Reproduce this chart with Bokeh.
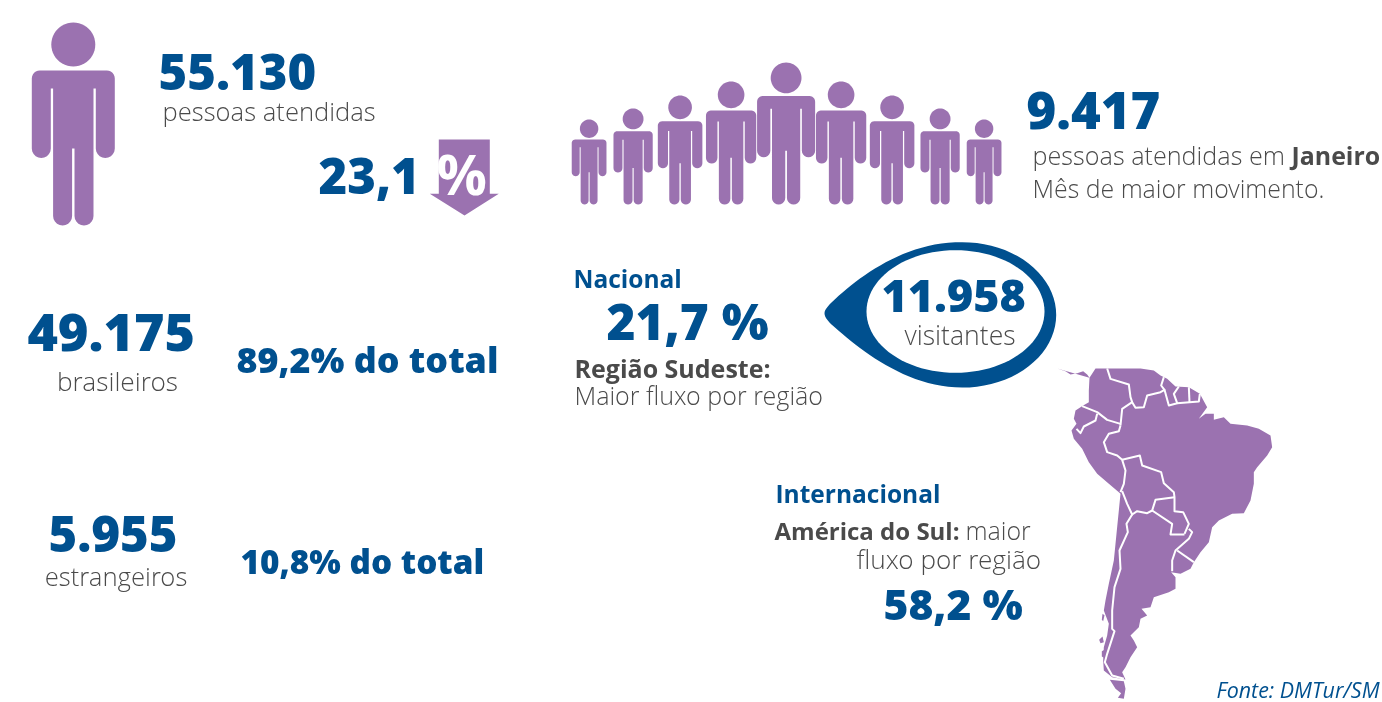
from bokeh.plotting import figure
from bokeh.models import Range1d
from bokeh.core.properties import value
from bokeh.embed import file_html
from bokeh.resources import INLINE
import math

# ---- values and wording ----
total_value = "55.130"
total_label = "pessoas atendidas"
change_value = "23,1"
change_unit = "%"
peak_value = "9.417"
peak_label = "pessoas atendidas em"
peak_month = "Janeiro"
peak_note = "Mês de maior movimento."
group_values = ["49.175", "5.955"]
group_labels = ["brasileiros", "estrangeiros"]
group_shares = ["89,2% do total", "10,8% do total"]
visitor_value = "11.958"
visitor_label = "visitantes"
national_head = "Nacional"
national_share = "21,7 %"
national_region = "Região Sudeste:"
national_note = "Maior fluxo por região"
intl_head = "Internacional"
intl_region = "América do Sul:"
intl_note = ["maior", "fluxo por região"]
intl_share = "58,2 %"
source_note = "Fonte: DMTur/SM"

# heights of the crowd pictogram, tallest in the middle
crowd_heights = [85, 96, 109, 123, 142, 123, 109, 96, 85]
crowd_centres = [589, 633, 680, 731, 786, 841, 892, 940, 984]

# outlines of the map
continent = [(50,24),(75,32),(90,42),(110,38),(128,32),(140,42),(147,52),(145,90),(145,125),(128,135),(105,150),(100,175),(108,190),(93,210),(100,235),(125,265),(145,305),(170,340),(205,370),(235,395),(240,400),(235,450),(228,520),(220,600),(205,670),(195,720),(190,750),(205,790),(200,825),(190,860),(188,900),(190,930),(215,950),(255,957),(245,935),(255,920),(270,890),(290,860),(280,840),(270,825),(295,800),(300,775),(320,765),(303,745),(330,740),(340,710),(385,695),(405,685),(405,650),(392,635),(420,640),(450,625),(460,605),(480,575),(505,545),(515,500),(535,480),(575,460),(610,458),(630,420),(640,370),(640,335),(650,320),(680,285),(695,260),(690,225),(655,205),(620,195),(570,190),(550,170),(520,178),(520,160),(495,160),(475,175),(500,140),(478,100),(445,80),(405,78),(380,55),(360,45),(340,30),(300,24),(165,24),(147,52)]
fuego = [(208,958),(250,962),(255,985),(250,1015),(232,1012),(242,998),(225,985)]
islets = [
 [(186,760),(192,764),(188,782),(184,778)],
 [(176,838),(186,828),(190,845),(180,848)],
 [(184,872),(192,868),(190,892),(184,888)],
]
borders = [
 [(200,24),(210,55),(265,72),(270,110),(275,125),(245,145),(240,195)],
 [(275,125),(285,142),(310,140),(320,105),(360,95),(372,88),(362,75),(370,50)],
 [(372,88),(385,135),(410,128),(400,100),(415,78)],
 [(410,128),(447,125),(475,123),(478,100)],
 [(447,125),(445,80)],
 [(125,137),(170,155),(200,178),(240,190)],
 [(170,160),(165,180),(130,198),(120,218),(108,205)],
 [(240,195),(235,212),(205,220),(190,245),(200,275),(230,285),(245,298),(255,330),(250,370),(240,395)],
 [(245,298),(298,285),(305,315),(362,335),(370,368),(400,395),(402,410),(402,452),(428,455),(445,490),(432,520)],
 [(245,392),(260,430),(275,462),(290,452),(320,458),(335,450),(345,418),(402,410)],
 [(335,450),(395,490),(390,522),(432,522)],
 [(445,505),(455,515),(445,535),(405,570),(395,600),(395,632)],
 [(410,570),(460,605)],
 [(275,462),(258,490),(262,515),(237,570),(240,625),(222,680),(215,750),(215,805),(222,812),(200,880),(193,905),(215,945),(250,955)],
]

BLUE = "#00508f"
PURPLE = "#9b72b0"
GRAY = "#4a4a4a"

p = figure(width=1382, height=702, x_range=Range1d(0, 1382), y_range=Range1d(702, 0),
           output_backend="svg", toolbar_location=None, min_border=0)
p.axis.visible = False
p.grid.visible = False
p.outline_line_color = None
p.background_fill_color = "white"
p.styles = {"position": "fixed", "left": "0", "top": "0"}


def arc(cx, cy, r, a0, a1, n=10):
    return [(cx + r * math.cos(math.radians(a0 + (a1 - a0) * i / n)),
             cy + r * math.sin(math.radians(a0 + (a1 - a0) * i / n))) for i in range(n + 1)]


def person(cx, bottom, height):
    s = height / 203.0
    X = lambda u: cx + u * s
    Y = lambda v: bottom + (v - 225) * s
    th = [i * 2 * math.pi / 48 for i in range(48)]
    p.patch([X(22 * math.cos(t)) for t in th], [Y(44 + 22 * math.sin(t)) for t in th],
            fill_color=PURPLE, line_color=None)
    half = [(0, 70)]
    half += [(41.5 - 8 + 8 * math.cos(math.radians(a)), 78 + 8 * math.sin(math.radians(a))) for a in range(-90, 1, 15)]
    half += arc(32, 148, 9.5, 0, 180)
    half += [(22.5, 88), (20.2, 88)]
    half += arc(10.7, 215.5, 9.5, 0, 180)
    half += [(1.2, 148), (0, 148)]
    outline = half + [(-x, y) for x, y in reversed(half)]
    p.patch([X(x) for x, _ in outline], [Y(y) for _, y in outline], fill_color=PURPLE, line_color=None)


def label(text, x, y, size, color=GRAY, bold=False, italic=False, align="left", font="Open Sans"):
    style = "bold italic" if bold and italic else "bold" if bold else "italic" if italic else "normal"
    p.text([x - 1], [y - 0.37 * size - 1.5], text=[text], text_font=value(font), text_font_size=f"{size}px",
           text_color=color, text_font_style=style, text_baseline="alphabetic", text_align=align)


# people
person(72.8, 225, 203)
for c, h in zip(crowd_centres, crowd_heights):
    person(c - 0.4, 204, h)

# down arrow
p.patch([438.3, 489.3, 489.3, 498.3, 464, 429.3, 438.3], [139, 139, 193.3, 193.3, 215, 193.3, 193.3],
        fill_color=PURPLE, line_color=None)


def bezier(a, b, c, d, n=24):
    out = []
    for i in range(n + 1):
        t = i / n
        u = 1 - t
        out.append((u**3 * a[0] + 3 * u * u * t * b[0] + 3 * u * t * t * c[0] + t**3 * d[0],
                    u**3 * a[1] + 3 * u * u * t * b[1] + 3 * u * t * t * c[1] + t**3 * d[1]))
    return out


# speech drop
drop = arc(961.7, 314.4, 94, 90, -90, 40)
drop = [(961.7 + (x - 961.7), 314.4 + (y - 314.4) * 72.7 / 94) for x, y in drop]
drop += bezier((961.7, 241.7), (905, 241), (858, 276), (831, 302))
drop += bezier((831, 302), (826, 307), (824, 310), (824, 312.7), 6)
drop += bezier((824, 312.7), (824, 316), (826, 319), (831, 324), 6)
drop += bezier((831, 324), (858, 348), (905, 387), (961.7, 387))
p.patch([x for x, _ in drop], [y for _, y in drop], fill_color=BLUE, line_color=None)
th = [i * 2 * math.pi / 96 for i in range(96)]
p.patch([955 + 89 * math.cos(t) for t in th], [311 + 61.3 * math.sin(t) for t in th], fill_color="white", line_color=None)


# map
def mx(pts):
    return [1040 + a / 3 for a, _ in pts]


def my(pts):
    return [360 + b / 3 for _, b in pts]


p.patch(mx(continent), my(continent), fill_color=PURPLE, line_color=None)
p.patch(mx(fuego), my(fuego), fill_color=PURPLE, line_color=None)
for isl in islets:
    p.patch(mx(isl), my(isl), fill_color=PURPLE, line_color=None)
for b in borders:
    p.line(mx(b), my(b), line_color="white", line_width=2, line_join="round")

# texts
HEAVY = "Open Sans ExtraBold"
LIGHT = "Open Sans Light"
label(total_value, 159, 91, 49, BLUE, font=HEAVY)
label(total_label, 163, 122, 25.6, font=LIGHT)
label(change_value, 319, 195, 49, BLUE, font=HEAVY)
label(change_unit, 437, 195, 56, "white", True)
label(peak_value, 1027, 130, 50.8, BLUE, font=HEAVY)
label(peak_label, 1033, 165, 25.2, font=LIGHT)
label(peak_month, 1292, 165, 24.9, GRAY, True)
label(peak_note, 1033, 198, 24.9, font=LIGHT)
label(group_values[0], 28, 353, 52, BLUE, font=HEAVY)
label(group_labels[0], 118, 392, 26.3, align="center", font=LIGHT)
label(group_shares[0], 237, 373, 35.8, BLUE, font=HEAVY)
label(group_values[1], 49, 553, 49, BLUE, font=HEAVY)
label(group_labels[1], 116.5, 587.5, 25.7, align="center", font=LIGHT)
label(group_shares[1], 241, 574, 33.3, BLUE, font=HEAVY)
label(national_head, 574, 289, 24.5, BLUE, True)
label(national_share, 607, 340, 49.5, BLUE, font=HEAVY)
label(national_region, 575, 378, 25, GRAY, True)
label(national_note, 575, 405, 25.1, font=LIGHT)
label(visitor_value, 882, 314, 44.8, BLUE, font=HEAVY)
label(visitor_label, 905, 345.5, 26.6, font=LIGHT)
label(intl_head, 776, 504, 24.5, BLUE, True)
label(intl_region, 775, 540, 24, GRAY, True)
label(intl_note[0], 966, 540, 25, font=LIGHT)
label(intl_note[1], 857, 570, 26.2, font=LIGHT)
label(intl_share, 884, 620, 42.5, BLUE, font=HEAVY)
label(source_note, 1217, 698, 21.4, BLUE, italic=True)

open("out.html", "w").write(file_html(p, INLINE))
